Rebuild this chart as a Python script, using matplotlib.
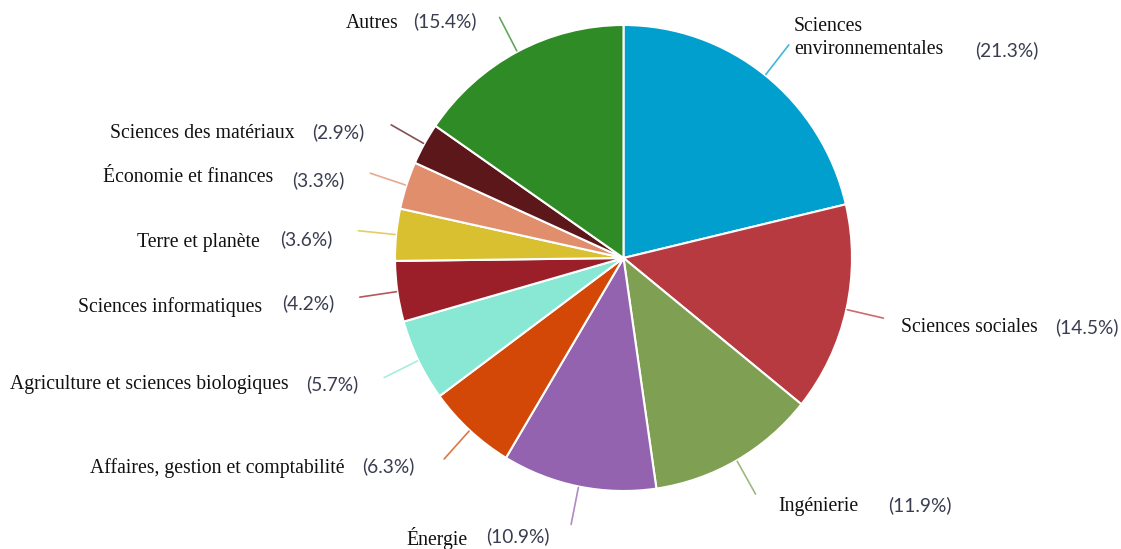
import numpy as np
import matplotlib.pyplot as plt

# data
categories = ["Sciences\nenvironnementales", "Sciences sociales", "Ingénierie", "Énergie",
              "Affaires, gestion et comptabilité", "Agriculture et sciences biologiques",
              "Sciences informatiques", "Terre et planète", "Économie et finances",
              "Sciences des matériaux", "Autres"]
shares = [21.3, 14.5, 11.9, 10.9, 6.3, 5.7, 4.2, 3.6, 3.3, 2.9, 15.4]
colors = ["#009fce", "#b83a41", "#7fa052", "#9463b0", "#d34806", "#88e8d4",
          "#9a1f28", "#d8c031", "#e08e6c", "#5b1719", "#2e8b25"]

W, H = 1121, 549
# label layout in pixel coords from top-left: label x, label y, percent x, percent y
label_pos = [(794, 38, 975, 50), (901, 328, 1055, 327), (778, 507, 888, 505),
             (406, 539, 486, 536), (90, 468, 362, 466), (10, 385, 306, 384),
             (78, 307, 282, 303), (137, 242, 280, 239), (103, 177, 292, 180),
             (110, 133, 312, 132), (346, 23, 413, 21)]

# reference pie is slightly taller than wide
ys = 233 / 228.5


def py2d(y):
    return (H - y) / ys


cx, cy, r = 623.5, py2d(258), 228.5

fig = plt.figure(figsize=(W / 100, H / 100), dpi=100)
ax = fig.add_axes([0, 0, 1, 1])

wedges, _ = ax.pie(shares, colors=colors, startangle=90, counterclock=False,
                   center=(cx, cy), radius=r,
                   wedgeprops=dict(edgecolor="white", linewidth=1.5))

# short leader lines in the slice colour
for w, col in zip(wedges, colors):
    mid = np.deg2rad((w.theta1 + w.theta2) / 2)
    dx, dy = np.cos(mid), np.sin(mid)
    ax.plot([cx + dx * (r + 1), cx + dx * (r + 38)],
            [cy + dy * (r + 1), cy + dy * (r + 38)],
            color=col, lw=1.2, alpha=0.75, solid_capstyle="round")

for name, val, (lx, ly, px, py) in zip(categories, shares, label_pos):
    ax.text(lx, py2d(ly), name, ha="left", va="center", family="Liberation Serif",
            fontsize=14.2, color="#111111", linespacing=1.3)
    ax.text(px, py2d(py), f"({val}%)", ha="left", va="center", family="Lato",
            fontsize=13.8, color="#3a3d50")

ax.set_xlim(0, W)
ax.set_ylim(0, H / ys)
ax.set_aspect("auto")
ax.axis("off")

fig.savefig("out.png", dpi=100)
